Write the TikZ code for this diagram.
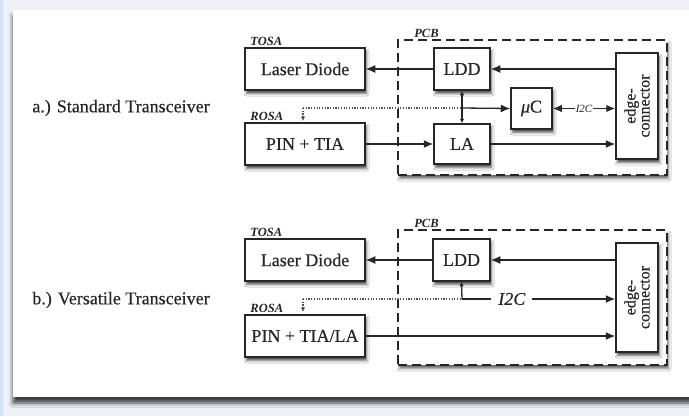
\documentclass[tikz,border=0pt]{standalone}
\usepackage{fontspec}
\setmainfont{Liberation Serif}
\newfontfamily\heavy{Liberation Serif}[FakeBold=0.4]
\usetikzlibrary{arrows.meta,shadows.blur}

\definecolor{ink}{HTML}{262626}
\definecolor{paper}{HTML}{EDF1F6}
\definecolor{edgeblue}{HTML}{D3E2F4}

\tikzset{
  blk/.style={draw=ink, line width=1.5pt, fill=white, inner sep=0pt, text=ink,
    font=\heavy\fontsize{18}{20}\selectfont,
    blur shadow={shadow xshift=1.5pt, shadow yshift=-3.5pt, shadow blur radius=2.5pt, shadow opacity=70}},
  pcb/.style={draw=ink, line width=1.8pt, dash pattern=on 9pt off 5pt, fill=white, inner sep=0pt,
    blur shadow={shadow xshift=1.5pt, shadow yshift=-3.5pt, shadow blur radius=2.5pt, shadow opacity=60}},
  tag/.style={inner sep=0pt, anchor=base west, text=ink, font=\fontsize{12.5}{14}\selectfont\bfseries\itshape},
  ttl/.style={inner sep=0pt, text=ink, font=\heavy\fontsize{18}{20}\selectfont},
  ln/.style={draw=ink, line width=1.3pt},
  dot/.style={draw=ink!80, line width=1.2pt, dash pattern=on 1.2pt off 1.5pt},
  bigtip/.style={-{Latex[length=9.5pt,width=8pt]}},
  bothtip/.style={{Latex[length=9pt,width=7.5pt]}-{Latex[length=9pt,width=7.5pt]}},
  smalltip/.style={-{Latex[length=4.5pt,width=4.5pt]}},
  smallboth/.style={{Latex[length=4.5pt,width=4.5pt]}-{Latex[length=4.5pt,width=4.5pt]}},
}

\begin{document}
\begin{tikzpicture}[x=1pt,y=-1pt]
\useasboundingbox (0,0) rectangle (689,416);

% page and panel
\fill[paper] (0,0) rectangle (689,416);
\fill[edgeblue] (0,0) rectangle (3,416);
\fill[white, blur shadow={shadow xshift=0pt, shadow yshift=-6pt, shadow blur radius=4pt, shadow opacity=75}]
  (13,10) rectangle (705,397);

% ---------------- a.) standard transceiver ----------------
\node[ttl] (titleA) at (121,108) {a.) Standard Transceiver};

\node[pcb, minimum width=269pt, minimum height=135pt] (pcbA) at (532.5,107.5) {};
\node[tag] (pcbAtag) at ([xshift=17pt,yshift=2pt]pcbA.north west) {PCB};

\node[blk, minimum width=120pt, minimum height=42pt] (ldA) at (305,69) {Laser Diode};
\node[tag] (tosaA) at ([xshift=6pt,yshift=1.5pt]ldA.north west) {TOSA};
\node[blk, minimum width=120pt, minimum height=42pt] (pinA) at (305,144) {PIN + TIA};
\node[tag] (rosaA) at ([xshift=6pt,yshift=1.5pt]pinA.north west) {ROSA};

\node[blk, minimum width=56pt, minimum height=42pt] (lddA) at (462,69) {LDD};
\node[blk, minimum width=56pt, minimum height=40pt] (laA) at (462,144) {LA};
\node[blk, minimum width=41pt, minimum height=41pt] (ucA) at (531.5,108.5) {\textit{μ}C};
\node[blk, minimum width=42pt, minimum height=106pt] (ecA) at (637,106) {};
\node[rotate=90, align=center, inner sep=0pt, text=ink, font=\heavy\fontsize{16}{14}\selectfont]
  (ecAtxt) at (ecA.center) {edge-\\connector};

\coordinate (dropA) at (303,108);
\coordinate (dropAend) at (303,121);
\coordinate (tapA) at (lddA.south |- dropA);

\draw[ln, bigtip] (ecA.west |- lddA) -- (lddA.east);
\draw[ln, bigtip] (lddA.west) -- (ldA.east);
\draw[ln, bigtip] (pinA.east) -- (laA.west);
\draw[ln, bigtip] (laA.east) -- (laA.east -| ecA.west);
\draw[ln, smallboth] (lddA.south) -- (laA.north);
\draw[dot] (dropA) -- (tapA);
\draw[dot, smalltip] (dropA) -- (dropAend);
\draw[ln, bigtip] (tapA) -- (ucA.west);
\draw[ln, bothtip] (ucA.east) -- (ucA.east -| ecA.west)
  node[midway, fill=white, inner sep=1pt, text=ink, font=\fontsize{11}{12}\selectfont\itshape] (i2cA) {I2C};

% ---------------- b.) versatile transceiver ----------------
\node[ttl] (titleB) at (121,300) {b.) Versatile Transceiver};

\node[pcb, minimum width=269pt, minimum height=135pt] (pcbB) at (532.5,297.5) {};
\node[tag] (pcbBtag) at ([xshift=17pt,yshift=2pt]pcbB.north west) {PCB};

\node[blk, minimum width=120pt, minimum height=42pt] (ldB) at (305,260) {Laser Diode};
\node[tag] (tosaB) at ([xshift=6pt,yshift=1.5pt]ldB.north west) {TOSA};
\node[blk, minimum width=120pt, minimum height=42pt] (pinB) at (305,336) {PIN + TIA/LA};
\node[tag] (rosaB) at ([xshift=6pt,yshift=1.5pt]pinB.north west) {ROSA};

\node[blk, minimum width=57pt, minimum height=42pt] (lddB) at (461.5,260) {LDD};
\node[blk, minimum width=42pt, minimum height=109pt] (ecB) at (637,297.5) {};
\node[rotate=90, align=center, inner sep=0pt, text=ink, font=\heavy\fontsize{16}{14}\selectfont]
  (ecBtxt) at (ecB.center) {edge-\\connector};

\coordinate (dropB) at (303,299);
\coordinate (dropBend) at (303,312);
\coordinate (tapB) at (462,299);

\draw[ln, bigtip] (ecB.west |- lddB) -- (lddB.east);
\draw[ln, bigtip] (lddB.west) -- (ldB.east);
\draw[ln, bigtip] (pinB.east) -- (pinB.east -| ecB.west);
\draw[dot] (dropB) -- (tapB);
\draw[dot, smalltip] (dropB) -- (dropBend);
\draw[ln, smalltip] (tapB) -- (lddB.south);
\draw[ln, bigtip] (tapB) -- (tapB -| ecB.west)
  node[pos=0.325, fill=white, inner xsep=7pt, inner ysep=1pt, text=ink, font=\heavy\fontsize{18}{20}\selectfont\itshape] (i2cB) {I2C};

\end{tikzpicture}
\end{document}
